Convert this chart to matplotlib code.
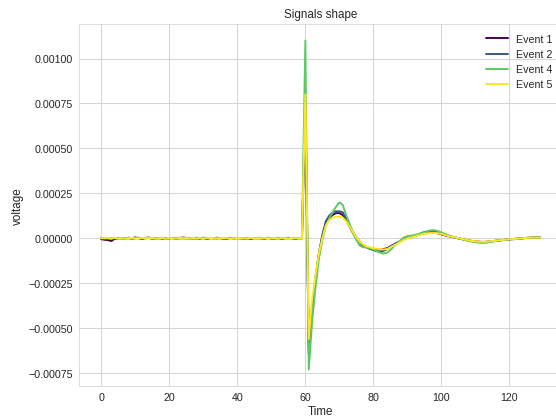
import matplotlib
matplotlib.use("Agg")
import matplotlib.pyplot as plt
import seaborn as sns
import numpy as np

sns.set_style("whitegrid")
plt.rcParams['font.family'] = ['Liberation Sans', 'DejaVu Sans']
plt.rcParams['axes.unicode_minus'] = True

# time index
time = list(range(130))

# signal values in microvolts (1e-6 V)
event1_uv = [
    -5, -8, -10, -15, -3, 0, 2, -2, 3, 1,
    5, 0, -3, 2, 4, 0, -2, 1, 3, -1,
    0, 2, -3, 1, 4, 2, -1, 0, 3, -2,
    1, -4, 2, 0, 3, 1, -2, 0, 2, -1,
    3, 0, -2, 1, -3, 2, 0, 1, -2, 3,
    0, -1, 2, -3, 1, 0, 2, -4, 1, 0,
    760, -640, -420, -220, -90, 10, 80, 110, 130, 140,
    140, 130, 100, 65, 30, 0, -25, -40, -50, -55,
    -60, -62, -62, -60, -55, -45, -35, -25, -15, -5,
    3, 8, 12, 18, 25, 30, 32, 33, 32, 28,
    22, 16, 12, 8, 4, 0, -4, -8, -12, -15,
    -17, -19, -20, -20, -18, -16, -14, -12, -10, -8,
    -6, -5, -4, -2, 0, 2, 3, 4, 5, 5,
]
event2_uv = [
    2, -3, 1, -2, 0, 3, -1, 2, 0, -2,
    1, 3, -1, 0, 2, -2, 1, 0, -3, 2,
    0, 1, -2, 3, 0, -1, 2, 1, -2, 0,
    3, -1, 0, 2, -2, 1, 0, -3, 2, 1,
    0, 2, -1, -3, 1, 0, 3, -2, 0, 1,
    -2, 1, 0, 2, -1, 3, 0, -2, 1, 0,
    780, -600, -400, -215, -80, 20, 95, 125, 145, 150,
    150, 145, 110, 70, 35, 5, -20, -38, -50, -60,
    -65, -72, -75, -70, -60, -45, -35, -25, -15, -5,
    3, 8, 14, 20, 28, 35, 38, 40, 38, 33,
    28, 22, 16, 10, 5, 0, -4, -8, -12, -15,
    -18, -20, -21, -20, -18, -16, -13, -11, -9, -7,
    -5, -4, -2, 0, 1, 2, 3, 4, 5, 4,
]
event4_uv = [
    0, 2, -1, 1, 3, 0, -2, 1, 2, 0,
    -1, 2, 0, 3, 1, -2, 0, 2, 1, -1,
    2, 0, 1, -2, 0, 3, 1, 0, -1, 2,
    0, 1, 3, -1, 0, 2, -2, 1, 0, 3,
    1, -2, 0, 2, 1, 0, -1, 3, 0, 1,
    2, 0, -2, 1, 3, 0, 1, -1, 2, 0,
    1100, -730, -460, -270, -110, -10, 70, 110, 145, 175,
    200, 185, 130, 80, 30, -10, -40, -50, -50, -55,
    -62, -70, -80, -85, -80, -65, -45, -30, -10, 5,
    12, 15, 18, 22, 28, 32, 40, 45, 45, 40,
    32, 24, 16, 10, 5, 0, -5, -10, -14, -18,
    -21, -24, -26, -25, -22, -18, -15, -12, -10, -8,
    -6, -4, -3, -1, 1, 3, 4, 5, 5, 4,
]
event5_uv = [
    1, 0, 3, -1, 2, 0, 1, -2, 0, 3,
    0, -1, 2, 0, 1, 3, -2, 0, 2, -1,
    1, 0, -2, 2, 0, 1, -1, 3, 0, 1,
    -2, 0, 2, 1, -1, 0, 3, 1, -2, 0,
    2, 1, 0, -2, 3, 0, 1, -1, 2, 0,
    0, 2, -1, 1, 0, -2, 2, 0, 1, 0,
    800, -560, -340, -200, -80, 0, 70, 100, 115, 120,
    120, 115, 95, 65, 35, 5, -20, -35, -45, -50,
    -55, -58, -60, -62, -60, -50, -40, -30, -20, -8,
    0, 5, 10, 15, 20, 25, 28, 30, 30, 28,
    24, 18, 13, 9, 5, 1, -3, -7, -11, -14,
    -16, -18, -19, -19, -17, -15, -13, -11, -9, -7,
    -5, -4, -3, -1, 0, 2, 3, 4, 4, 4,
]

labels = ["Event 1", "Event 2", "Event 4", "Event 5"]
series = [event1_uv, event2_uv, event4_uv, event5_uv]
cmap = plt.get_cmap("viridis")
color_pos = [0.0, 0.25, 0.75, 1.0]

fig = plt.figure(figsize=(8, 6), dpi=69.6)
ax = fig.add_axes([0.1424, 0.0749, 0.867, 0.8653])

for lab, s, cp in zip(labels, series, color_pos):
    ax.plot(time, np.array(s) * 1e-6, color=cmap(cp), lw=2, label=lab)

ax.set_xlim(-6.45, 135.45)
ax.set_ylim(-0.00082, 0.00119)
ax.set_yticks([-0.00075, -0.0005, -0.00025, 0, 0.00025, 0.0005, 0.00075, 0.001])
ax.yaxis.set_major_formatter(matplotlib.ticker.FuncFormatter(
    lambda v, p: ('%.5f' % v).replace('-', '\u2212')))
ax.grid(color='#d5d5d5', lw=1.1)
for sp in ax.spines.values():
    sp.set_color('#d5d5d5')
ax.tick_params(labelsize=11, colors='.15')
ax.set_xlabel("Time", fontsize=12, labelpad=3)
ax.set_ylabel("voltage", fontsize=12)
ax.set_title("Signals shape", fontsize=12, pad=7)
ax.legend(loc="upper right", frameon=False, fontsize=11)

fig.savefig("out.png", dpi=69.6)
